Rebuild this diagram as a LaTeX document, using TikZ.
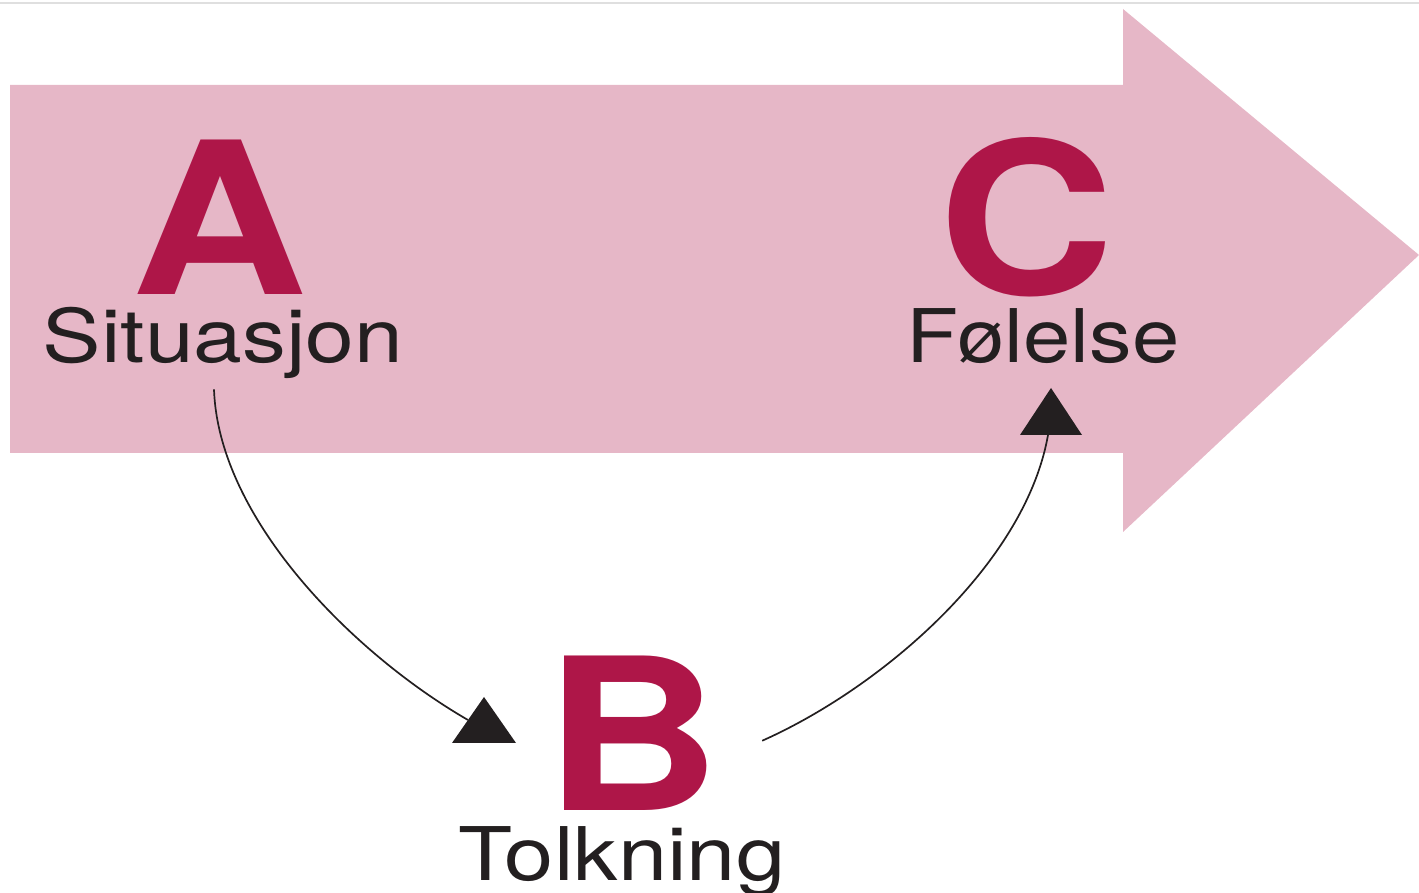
\documentclass[tikz,border=0pt]{standalone}
\usepackage{fontspec}
\setmainfont{TeX Gyre Heros}[FakeStretch=1.15]
\usepackage{tikz}
\usetikzlibrary{arrows.meta,positioning}

\definecolor{pinkbg}{RGB}{230,183,199}
\definecolor{letterred}{RGB}{174,22,72}
\definecolor{inkdark}{RGB}{35,31,32}

\begin{document}
\begin{tikzpicture}[
  x=1pt, y=1pt,
  letter/.style={font=\fontsize{212}{212}\selectfont\bfseries, text=letterred, inner sep=0, anchor=base},
  word/.style={font=\fontsize{74}{74}\selectfont, text=inkdark, inner sep=0, anchor=base},
  conn/.style={draw=inkdark, line width=1.7pt},
  tipmark/.style={fill=inkdark}
]
\useasboundingbox (0,0) rectangle (1419,892);
\draw[gray!25, line width=1.5pt] (0,889) -- (1419,889);

% big arrow in the back
\fill[pinkbg] (10,807) -- (1123,807) -- (1123,883) -- (1419,637)
  -- (1123,360) -- (1123,439) -- (10,439) -- cycle;

\node[letter] (a) at (220,597) {A};
\node[word, xscale=1.03] (sit) at (223,529) {Situasjon};
\node[letter] (c) at (1027,597) {C};
\node[word] (fol) at (1043,529) {Følelse};
\node[letter] (b) at (633,82) {B};
\node[word, xscale=1.04] (tolk) at (622,12) {Tolkning};

% triangle marks
\coordinate (tb) at (484,172);
\coordinate (tc) at (1051,480);
\fill[tipmark] (tb) ++(0,23) -- ++(32,-46) -- ++(-64,0) -- cycle;
\fill[tipmark] (tc) ++(0,24) -- ++(31,-47) -- ++(-62,0) -- cycle;

\draw[conn] ([xshift=-9pt,yshift=-10pt]sit.south) to[out=-88, in=150, looseness=0.8] ([xshift=-16pt]tb);
\draw[conn] ([xshift=41pt,yshift=-8pt]b.east) to[out=24, in=-100, looseness=0.8] ([xshift=-3pt,yshift=-23pt]tc);
\end{tikzpicture}
\end{document}
